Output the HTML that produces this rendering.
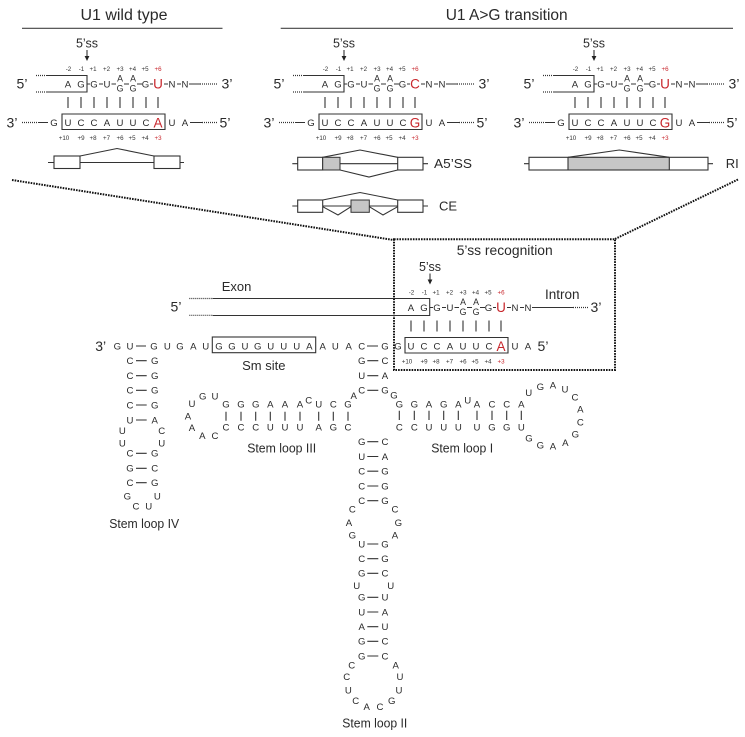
<!DOCTYPE html>
<html><head><meta charset="utf-8"><style>
html,body{margin:0;padding:0;background:#fff}
svg{display:block}
text{font-family:"Liberation Sans",sans-serif;fill:#2a2a2a}
.n{font-size:9.6px;text-anchor:middle}
.s{font-size:8.8px;text-anchor:middle}
.p{font-size:6.2px;text-anchor:middle;fill:#333}
.r{fill:#c8262c}
.big{font-size:13.5px;text-anchor:middle;fill:#c8262c}
.l{font-size:14px;text-anchor:middle}
.t{font-size:12.5px;text-anchor:middle}
.h{font-size:15.5px;text-anchor:middle}
.ln{fill:none;stroke:#333;stroke-width:1.1}
.b{fill:none;stroke:#333;stroke-width:1.1}
.d{fill:none;stroke:#333;stroke-width:1.2;stroke-dasharray:1 1}
.dd{fill:none;stroke:#111;stroke-width:2;stroke-dasharray:1.6 1.1}
</style></head><body>
<svg width="745" height="737" viewBox="0 0 745 737" xmlns="http://www.w3.org/2000/svg">
<rect width="745" height="737" fill="#fff"/>

<!-- headers -->
<text class="h" x="124" y="20" textLength="87" lengthAdjust="spacingAndGlyphs">U1 wild type</text>
<path class="ln" style="stroke:#444" d="M22 28.3H222.5M280.7 28.3H733"/>
<text class="h" x="506.7" y="20" textLength="122" lengthAdjust="spacingAndGlyphs">U1 A&gt;G transition</text>

<!-- Panel 1 -->
<g>
<text class="t" x="87" y="47.5">5’ss</text>
<path class="ln" d="M87 50V57"/><path d="M84.6 56L87 61L89.4 56Z" fill="#222"/>
<text class="p" x="68.5" y="71">-2</text><text class="p" x="81.5" y="71">-1</text><text class="p" x="93" y="71">+1</text><text class="p" x="106.5" y="71">+2</text><text class="p" x="120" y="71">+3</text><text class="p" x="132.5" y="71">+4</text><text class="p" x="145" y="71">+5</text>
<text class="p r" x="158" y="71">+6</text>
<text class="l" x="22" y="88.5">5’</text><text class="l" x="227" y="88.5">3’</text>
<text class="l" x="12" y="127.5">3’</text><text class="l" x="225" y="127.5">5’</text>
<path class="d" d="M36 75.5H46M36 92H46M200 84H218M22 122.5H38M202 122.5H218"/>
<path class="b" d="M46 75.5H87V92H46M62 114H165V129.5H62ZM87 84H90M99 84H103M111.5 84H116M124 84H129M137 84H142M150 84H153M164 84H168M177 84H181M189 84H200M38 122.5H48M190 122.5H202"/>
<path class="b" d="M68 97V108M81 97V108M94 97V108M107 97V108M120 97V108M133 97V108M146 97V108M158 97V108"/>
<text class="n" x="68 81 94 107 145.5 172 185" y="87.3">AGGUGNN</text>
<text class="s" x="120 133" y="81.5">AA</text><text class="s" x="120 133" y="91.6">GG</text>
<text class="big" x="158" y="88.5">U</text>
<text class="n" x="54 68 81 94 107 120 133 146 172 185" y="126">GUCCAUUCUA</text>
<text class="big" x="158" y="127.5">A</text>
<text class="p" x="64" y="140">+10</text><text class="p" x="81" y="140">+9</text><text class="p" x="93" y="140">+8</text><text class="p" x="106.5" y="140">+7</text><text class="p" x="120" y="140">+6</text><text class="p" x="132" y="140">+5</text><text class="p" x="145" y="140">+4</text>
<text class="p r" x="158" y="140">+3</text>
</g>
<path class="b" d="M48 162.5H54M180 162.5H184M80 162.5H154M80 156L117 148.5L154 156"/>
<rect class="b" x="54" y="156" width="26" height="12.5"/><rect class="b" x="154" y="156" width="26" height="12.5"/>

<!-- Panel 2 -->
<g transform="translate(257 0)">
<text class="t" x="87" y="47.5">5’ss</text>
<path class="ln" d="M87 50V57"/><path d="M84.6 56L87 61L89.4 56Z" fill="#222"/>
<text class="p" x="68.5" y="71">-2</text><text class="p" x="81.5" y="71">-1</text><text class="p" x="93" y="71">+1</text><text class="p" x="106.5" y="71">+2</text><text class="p" x="120" y="71">+3</text><text class="p" x="132.5" y="71">+4</text><text class="p" x="145" y="71">+5</text>
<text class="p r" x="158" y="71">+6</text>
<text class="l" x="22" y="88.5">5’</text><text class="l" x="227" y="88.5">3’</text>
<text class="l" x="12" y="127.5">3’</text><text class="l" x="225" y="127.5">5’</text>
<path class="d" d="M36 75.5H46M36 92H46M200 84H218M22 122.5H38M202 122.5H218"/>
<path class="b" d="M46 75.5H87V92H46M62 114H165V129.5H62ZM87 84H90M99 84H103M111.5 84H116M124 84H129M137 84H142M150 84H153M164 84H168M177 84H181M189 84H200M38 122.5H48M190 122.5H202"/>
<path class="b" d="M68 97V108M81 97V108M94 97V108M107 97V108M120 97V108M133 97V108M146 97V108M158 97V108"/>
<text class="n" x="68 81 94 107 145.5 172 185" y="87.3">AGGUGNN</text>
<text class="s" x="120 133" y="81.5">AA</text><text class="s" x="120 133" y="91.6">GG</text>
<text class="big" x="158" y="88.5">C</text>
<text class="n" x="54 68 81 94 107 120 133 146 172 185" y="126">GUCCAUUCUA</text>
<text class="big" x="158" y="127.5">G</text>
<text class="p" x="64" y="140">+10</text><text class="p" x="81" y="140">+9</text><text class="p" x="93" y="140">+8</text><text class="p" x="106.5" y="140">+7</text><text class="p" x="120" y="140">+6</text><text class="p" x="132" y="140">+5</text><text class="p" x="145" y="140">+4</text>
<text class="p r" x="158" y="140">+3</text>
</g>
<path class="b" d="M292.3 163.7H297.7M423 163.7H428M340 163.7H397.7M322.7 157.3L360 150L397.7 157.3M340 170L369 177L397.7 170"/>
<rect class="b" x="297.7" y="157.3" width="25" height="12.7"/>
<rect x="322.7" y="157.3" width="17.3" height="12.7" fill="#c6c6c6" stroke="#333"/>
<rect class="b" x="397.7" y="157.3" width="25.3" height="12.7"/>
<text class="t" x="434" y="168" style="text-anchor:start;font-size:13px" textLength="38" lengthAdjust="spacingAndGlyphs">A5’SS</text>
<path class="b" d="M292.3 206H297.7M423 206H428M322.7 206H351M369.3 206H397.7M322.7 200L360 192.5L397.7 200M322.7 206.7L338 215L351 206.7M369.3 206.7L383 215L397.7 206.7"/>
<rect class="b" x="297.7" y="200" width="25" height="12.3"/>
<rect x="351" y="200" width="18.3" height="12.3" fill="#c6c6c6" stroke="#333"/>
<rect class="b" x="397.7" y="200" width="25.3" height="12.3"/>
<text class="t" x="439" y="210.7" style="text-anchor:start;font-size:13px">CE</text>

<!-- Panel 3 -->
<g transform="translate(507 0)">
<text class="t" x="87" y="47.5">5’ss</text>
<path class="ln" d="M87 50V57"/><path d="M84.6 56L87 61L89.4 56Z" fill="#222"/>
<text class="p" x="68.5" y="71">-2</text><text class="p" x="81.5" y="71">-1</text><text class="p" x="93" y="71">+1</text><text class="p" x="106.5" y="71">+2</text><text class="p" x="120" y="71">+3</text><text class="p" x="132.5" y="71">+4</text><text class="p" x="145" y="71">+5</text>
<text class="p r" x="158" y="71">+6</text>
<text class="l" x="22" y="88.5">5’</text><text class="l" x="227" y="88.5">3’</text>
<text class="l" x="12" y="127.5">3’</text><text class="l" x="225" y="127.5">5’</text>
<path class="d" d="M36 75.5H46M36 92H46M200 84H218M22 122.5H38M202 122.5H218"/>
<path class="b" d="M46 75.5H87V92H46M62 114H165V129.5H62ZM87 84H90M99 84H103M111.5 84H116M124 84H129M137 84H142M150 84H153M164 84H168M177 84H181M189 84H200M38 122.5H48M190 122.5H202"/>
<path class="b" d="M68 97V108M81 97V108M94 97V108M107 97V108M120 97V108M133 97V108M146 97V108M158 97V108"/>
<text class="n" x="68 81 94 107 145.5 172 185" y="87.3">AGGUGNN</text>
<text class="s" x="120 133" y="81.5">AA</text><text class="s" x="120 133" y="91.6">GG</text>
<text class="big" x="158" y="88.5">U</text>
<text class="n" x="54 68 81 94 107 120 133 146 172 185" y="126">GUCCAUUCUA</text>
<text class="big" x="158" y="127.5">G</text>
<text class="p" x="64" y="140">+10</text><text class="p" x="81" y="140">+9</text><text class="p" x="93" y="140">+8</text><text class="p" x="106.5" y="140">+7</text><text class="p" x="120" y="140">+6</text><text class="p" x="132" y="140">+5</text><text class="p" x="145" y="140">+4</text>
<text class="p r" x="158" y="140">+3</text>
</g>
<rect x="568" y="157.3" width="101.3" height="12.7" fill="#c6c6c6"/>
<rect class="b" x="529" y="157.3" width="179" height="12.7"/>
<path class="b" d="M524 163.7H529M708 163.7H713M568 157.3V170M669.3 157.3V170M568 157.3L619.3 150L669.3 157.3"/>
<text class="t" x="725.7" y="168" style="text-anchor:start;font-size:13px">RI</text>

<!-- dotted zoom box -->
<path class="dd" d="M12 180L393.5 240M615 239L738 179.5M394 239.3H615V370H394Z"/>

<!-- recognition motif -->
<text class="l" x="504.7" y="255" textLength="96" lengthAdjust="spacingAndGlyphs">5’ss recognition</text>
<g transform="translate(343 223.5)">
<text class="t" x="87" y="47.5">5’ss</text>
<path class="ln" d="M87 50V57"/><path d="M84.6 56L87 61L89.4 56Z" fill="#222"/>
<text class="p" x="68.5" y="71">-2</text><text class="p" x="81.5" y="71">-1</text><text class="p" x="93" y="71">+1</text><text class="p" x="106.5" y="71">+2</text><text class="p" x="120" y="71">+3</text><text class="p" x="132.5" y="71">+4</text><text class="p" x="145" y="71">+5</text>
<text class="p r" x="158" y="71">+6</text>
<text class="l" x="253" y="88.5">3’</text>
<text class="l" x="200" y="127.5">5’</text>
<path class="d" d="M230 84H245"/>
<path class="b" d="M62 114H165V129.5H62ZM87 84H90M99 84H103M111.5 84H116M124 84H129M137 84H142M150 84H153M164 84H168M177 84H181M189 84H230"/>
<path class="b" d="M68 97V108M81 97V108M94 97V108M107 97V108M120 97V108M133 97V108M146 97V108M158 97V108"/>
<text class="n" x="68 81 94 107 145.5 172 185" y="87.3">AGGUGNN</text>
<text class="s" x="120 133" y="81.5">AA</text><text class="s" x="120 133" y="91.6">GG</text>
<text class="big" x="158" y="88.5">U</text>
<text class="n" x="55 68 81 94 107 120 133 146 172 185" y="126">GUCCAUUCUA</text>
<text class="big" x="158" y="127.5">A</text>
<text class="p" x="64" y="140">+10</text><text class="p" x="81" y="140">+9</text><text class="p" x="93" y="140">+8</text><text class="p" x="106.5" y="140">+7</text><text class="p" x="120" y="140">+6</text><text class="p" x="132" y="140">+5</text><text class="p" x="145" y="140">+4</text>
<text class="p r" x="158" y="140">+3</text>
</g>
<text class="t" x="545" y="299" style="text-anchor:start;font-size:13.5px">Intron</text>

<!-- exon -->
<text class="t" x="221.7" y="291" style="text-anchor:start;font-size:13px">Exon</text>
<text class="l" x="176" y="311.7">5’</text>
<path class="d" d="M189.3 298.5H212.7M189.3 315.3H212.7"/>
<path class="b" d="M212.7 298.5H429.7V315.5H212.7"/>

<!-- main U1 row -->
<text class="l" x="100.7" y="351">3’</text>
<text class="n" x="117.3 130 154 167.3 180 193.3 205.7 219 232 245 257.7 270.7 283.7 296.7 309.3 322.7 335.3 348.7 361.7 385" y="349.4">GUGUGAUGGUGUUUAAUACG</text>
<rect class="b" x="212.3" y="337" width="103.4" height="15.7"/>
<path class="b" d="M136 346H146M367 346H378"/>
<text class="t" x="263.8" y="370" style="font-size:13px">Sm site</text>

<!-- Stem IV -->
<g class="n">
<text class="n" x="130 154.7" y="364">CG</text>
<text class="n" x="130 154.7" y="379">CG</text>
<text class="n" x="130 154.7" y="393.7">CG</text>
<text class="n" x="130 154.7" y="408.4">CG</text>
<text class="n" x="130 154.7" y="423.4">UA</text>
<text class="n" x="122.3 161.7" y="434">UC</text>
<text class="n" x="122.3 161.7" y="446.5">UU</text>
<text class="n" x="130 154.7" y="456.7">CG</text>
<text class="n" x="130 154.7" y="471.7">GC</text>
<text class="n" x="130 154.7" y="486">CG</text>
<text class="n" x="127.3 157.3" y="499.4">GU</text>
<text class="n" x="136 148.7" y="509.4">CU</text>
</g>
<path class="b" d="M136 360.7H146.7M136 375.7H146.7M136 390.3H146.7M136 405H146.7M136 420H146.7M136 453.3H146.7M136 468.3H146.7M136 482.7H146.7"/>
<text class="t" x="144.2" y="528" textLength="70" lengthAdjust="spacingAndGlyphs">Stem loop IV</text>

<!-- Stem III -->
<text class="n" x="226 241 255.7 270.3 285 300 318.7 333.3 348" y="407.7">GGGAAAUCG</text>
<text class="n" x="226 241 255.7 270.3 285 300 318.7 333.3 348" y="430.7">CCCUUUAGC</text>
<text class="n" x="308.7" y="403.4">C</text><text class="n" x="353.7" y="399.1">A</text>
<text class="n" x="192" y="407.1">U</text><text class="n" x="202.7 215" y="399.4">GU</text>
<text class="n" x="188" y="419.4">A</text><text class="n" x="192" y="431.1">A</text><text class="n" x="202.3 215" y="439.1">AC</text>
<path class="b" d="M226 411.7V420.7M241 411.7V420.7M255.7 411.7V420.7M270.3 411.7V420.7M285 411.7V420.7M300 411.7V420.7M318.7 411.7V420.7M333.3 411.7V420.7M348 411.7V420.7"/>
<text class="t" x="281.7" y="452.7" textLength="69" lengthAdjust="spacingAndGlyphs">Stem loop III</text>

<!-- center upper stem -->
<text class="n" x="361.7 385" y="364">GC</text>
<text class="n" x="361.7 385" y="379">UA</text>
<text class="n" x="361.7 385" y="393.7">CG</text>
<text class="n" x="394" y="398.7">G</text>
<path class="b" d="M367.3 360.7H378.3M367.3 375.7H378.3M367.3 390.3H378.3"/>

<!-- Stem I -->
<text class="n" x="399.3 414.3 429 443.7 458.3 477 492 506.7 521.3" y="407.4">GGAGAACCA</text>
<text class="n" x="399.3 414.3 429 443.7 458.3 477 492 506.7 521.3" y="430.7">CCUUUUGGU</text>
<text class="n" x="467.7" y="403.4">U</text>
<path class="b" d="M399.3 410.7V420M414.3 410.7V420M429 410.7V420M443.7 410.7V420M458.3 410.7V420M477 410.7V420M492 410.7V420M506.7 410.7V420M521.3 410.7V420"/>
<text class="n" x="528.7" y="396.1">U</text><text class="n" x="540.3" y="390.1">G</text><text class="n" x="553" y="388.4">A</text><text class="n" x="565" y="392.4">U</text><text class="n" x="575" y="400.7">C</text><text class="n" x="580.3" y="412.7">A</text><text class="n" x="580.3" y="425.4">C</text><text class="n" x="575.3" y="437.4">G</text><text class="n" x="565.3" y="446.1">A</text><text class="n" x="553" y="449.7">A</text><text class="n" x="540.3" y="448.7">G</text><text class="n" x="529" y="441.7">G</text>
<text class="t" x="462.2" y="452.7" textLength="62" lengthAdjust="spacingAndGlyphs">Stem loop I</text>

<!-- Stem II -->
<text class="n" x="361.7 385" y="445.1">GC</text>
<text class="n" x="361.7 385" y="460">UA</text>
<text class="n" x="361.7 385" y="474.7">CG</text>
<text class="n" x="361.7 385" y="489.4">CG</text>
<text class="n" x="361.7 385" y="504.1">CG</text>
<text class="n" x="352.3 395" y="512.7">CC</text>
<text class="n" x="349 398.3" y="526.1">AG</text>
<text class="n" x="352.3 395" y="538.4">GA</text>
<text class="n" x="361.7 385" y="547.4">UG</text>
<text class="n" x="361.7 385" y="562.1">CG</text>
<text class="n" x="361.7 385" y="576.7">GC</text>
<text class="n" x="356.7 390.7" y="589.1">UU</text>
<text class="n" x="361.7 385" y="600.7">GU</text>
<text class="n" x="361.7 385" y="615.4">UA</text>
<text class="n" x="361.7 385" y="630.1">AU</text>
<text class="n" x="361.7 385" y="644.7">GC</text>
<text class="n" x="361.7 385" y="659.4">GC</text>
<text class="n" x="351.7 395.7" y="668.4">CA</text>
<text class="n" x="346.7 400" y="680.1">CU</text>
<text class="n" x="348.3 399" y="693.4">UU</text>
<text class="n" x="355.7 391.7" y="704.1">CG</text>
<text class="n" x="366.7 380" y="710.1">AC</text>
<path class="b" d="M367.3 441.7H378.3M367.3 456.5H378.3M367.3 471.2H378.3M367.3 486H378.3M367.3 500.7H378.3M367.3 544H378.3M367.3 558.7H378.3M367.3 573.3H378.3M367.3 597.3H378.3M367.3 612H378.3M367.3 626.7H378.3M367.3 641.3H378.3M367.3 656H378.3"/>
<text class="t" x="374.8" y="727.3" textLength="65" lengthAdjust="spacingAndGlyphs">Stem loop II</text>
</svg>
</body></html>
